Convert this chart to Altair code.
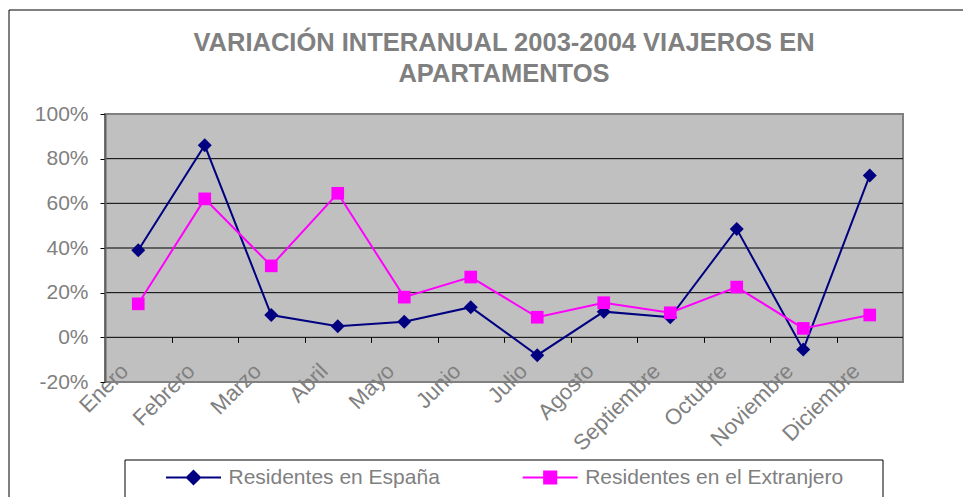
import altair as alt
import pandas as pd

meses = ["Enero", "Febrero", "Marzo", "Abril", "Mayo", "Junio", "Julio",
         "Agosto", "Septiembre", "Octubre", "Noviembre", "Diciembre"]
espana = [39, 86, 10, 5, 7, 13.5, -8, 11.5, 9, 48.5, -5.5, 72.5]
extranjero = [15, 62, 32, 64.5, 18, 27, 9, 15.5, 11, 22.5, 4, 10]
series = ["Residentes en España", "Residentes en el Extranjero"]
colores = ["#000080", "#FF00FF"]
y_ticks = [-20, 0, 20, 40, 60, 80, 100]

rows = []
for m, a, b in zip(meses, espana, extranjero):
    rows.append({"mes": m, "serie": series[0], "valor": a})
    rows.append({"mes": m, "serie": series[1], "valor": b})
df = pd.DataFrame(rows)

FONT = "Liberation Sans"
GRAY = "#808080"

x_scale = alt.Scale(type="point", padding=0.5, domain=meses)
y_scale = alt.Scale(domain=[-20, 100], nice=False, zero=False)
y_axis = alt.Axis(
    values=y_ticks, title=None,
    labelExpr="datum.value + '%'",
    labelFont=FONT, labelFontSize=21, labelColor=GRAY, labelPadding=12,
    tickColor="black", tickSize=5,
    domainColor="#606060", domainWidth=2,
    grid=False, zindex=1,
)
y_enc = alt.Y("valor:Q", scale=y_scale, axis=y_axis)


def color_enc():
    return alt.Color("serie:N", scale=alt.Scale(domain=series, range=colores), legend=None)


base = alt.Chart(df)
one = alt.Data(values=[{"k": 1}])

bg = alt.Chart(one).mark_rect(fill="#C0C0C0", stroke=GRAY, strokeWidth=2).encode(
    x=alt.value(0), x2=alt.value("width"), y=alt.value(0), y2=alt.value("height"))

grid = alt.Chart(alt.Data(values=[{"v": v} for v in y_ticks[1:-1]])).mark_rule(
    color="black", strokeWidth=1).encode(
    y=alt.Y("v:Q", scale=y_scale, axis=y_axis),
    x=alt.value(0), x2=alt.value("width"))

lines = base.mark_line(strokeWidth=2).encode(
    x=alt.X("mes:N", sort=meses, scale=x_scale,
            axis=alt.Axis(title=None, orient="bottom", domain=False, ticks=False, tickSize=0,
                          grid=False, labelAngle=-45, labelAlign="right", labelBaseline="top",
                          labelOffset=-21, labelPadding=-22, labelFont=FONT, labelFontSize=22,
                          labelColor=GRAY, labelOverlap=False, labelBound=False, labelFlush=False,
                          zindex=1)),
    y=y_enc,
    color=color_enc(),
)

pts_es = base.transform_filter(alt.datum.serie == series[0]).mark_point(
    filled=True, shape="diamond", size=196, opacity=1).encode(
    x=alt.X("mes:N", sort=meses, scale=x_scale,
            axis=alt.Axis(title=None, orient="bottom", offset=-44.7, domain=False, labels=False,
                          ticks=True, tickSize=5, tickColor="black", tickWidth=1,
                          tickOffset=-33.25, grid=False, zindex=1)),
    y=y_enc,
    color=color_enc(),
)

pts_ex = base.transform_filter(alt.datum.serie == series[1]).mark_point(
    filled=True, shape="square", size=160, opacity=1).encode(
    x=alt.X("mes:N", sort=meses, scale=x_scale, axis=None),
    y=y_enc,
    color=color_enc(),
)

sym_paths = [
    "M-1,0H1M0,-0.24L0.24,0L0,0.24L-0.24,0ZM0,-0.16L0.16,0L0,0.16L-0.16,0Z"
    "M0,-0.08L0.08,0L0,0.08L-0.08,0Z",
    "M-1,0H1M-0.22,-0.22H0.22V0.22H-0.22ZM-0.15,-0.15H0.15V0.15H-0.15Z"
    "M-0.08,-0.08H0.08V0.08H-0.08ZM-0.02,-0.02H0.02V0.02H-0.02Z",
]
legend_x = [60, 416.7]


def legend_layer(i):
    return base.transform_filter(alt.datum.serie == series[i]).mark_point(
        filled=False, opacity=0, strokeWidth=2).encode(
        color=alt.Color("serie:N", scale=alt.Scale(domain=[series[i]], range=[colores[i]]),
                        legend=alt.Legend(title=None, orient="none", legendX=legend_x[i],
                                          legendY=335, direction="horizontal", padding=0,
                                          symbolType=sym_paths[i], symbolSize=3025,
                                          symbolStrokeWidth=2, symbolOpacity=1,
                                          labelFont=FONT, labelFontSize=21, labelColor=GRAY,
                                          labelOffset=6.5, labelLimit=500)),
    )


frame = alt.Chart(one).mark_rect(filled=False, stroke="black", strokeWidth=1).encode(
    x=alt.value(-96), x2=alt.value(900), y=alt.value(-104), y2=alt.value(420))
legend_box = alt.Chart(one).mark_rect(filled=False, stroke="black", strokeWidth=1).encode(
    x=alt.value(20), x2=alt.value(778), y=alt.value(346), y2=alt.value(420))

chart = alt.layer(
    frame, legend_box, bg, grid, lines, pts_es, pts_ex, legend_layer(0), legend_layer(1)
).resolve_axis(
    x="independent"
).resolve_scale(
    color="independent"
).properties(
    width=798, height=268,
    autosize=alt.AutoSizeParams(type="none"),
    padding={"left": 97, "top": 106, "right": 60, "bottom": 115},
    title=alt.Title(["VARIACIÓN INTERANUAL 2003-2004 VIAJEROS EN", "APARTAMENTOS"],
                    font=FONT, fontSize=25.5, fontWeight="bold", color=GRAY,
                    anchor="middle", frame="group", offset=-78, lineHeight=31),
).configure_view(
    fill="#C0C0C0", stroke=GRAY, strokeWidth=2
)

chart.save("out.html", embed_options={"renderer": "svg", "actions": False})
